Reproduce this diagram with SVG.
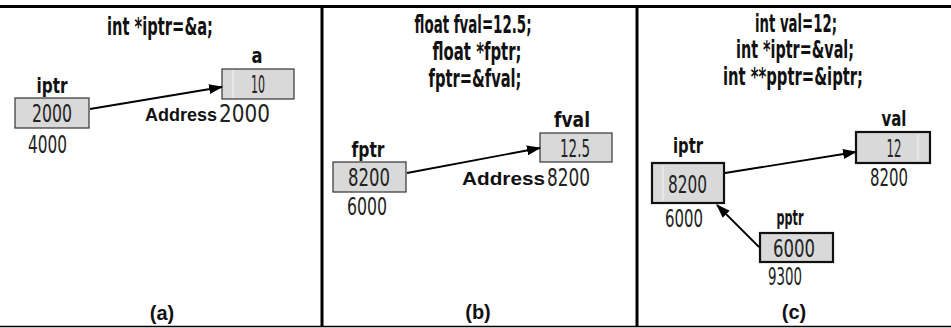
<svg xmlns="http://www.w3.org/2000/svg" width="951" height="328" viewBox="0 0 951 328">
<style>
.code{font-family:"DejaVu Sans Condensed","DejaVu Sans","Liberation Sans",sans-serif;font-stretch:condensed;font-weight:bold;font-size:24px;fill:#111;text-anchor:middle}
.lbl{font-family:"DejaVu Sans Condensed","DejaVu Sans","Liberation Sans",sans-serif;font-stretch:condensed;font-weight:bold;font-size:21px;fill:#111;text-anchor:middle}
.num{font-family:"DejaVu Sans Condensed","DejaVu Sans","Liberation Sans",sans-serif;font-stretch:condensed;font-size:25px;fill:#222}
.addr{font-family:"Liberation Sans",Arial,sans-serif;font-weight:bold;font-size:18px;fill:#111}
.cap{font-family:"Liberation Sans",Arial,sans-serif;font-weight:bold;font-size:20px;fill:#111;text-anchor:middle}
.box{fill:#d9d9d9;stroke:#333;stroke-width:1.2}
.boxc{fill:#d9d9d9;stroke:#111;stroke-width:2.2}
.hl{stroke:#f2f2f2;stroke-width:1}
.frame{stroke:#000;fill:none}
.conn{stroke:#000;stroke-width:1.8;fill:none;marker-end:url(#ah)}
</style>
<defs>
<marker id="ah" viewBox="0 0 14 10" refX="13" refY="5" markerWidth="14" markerHeight="10" markerUnits="userSpaceOnUse" orient="auto">
<path d="M0,0 L14,5 L0,10 Z" fill="#000"/>
</marker>
</defs>
<rect x="0" y="0" width="951" height="328" fill="#fff"/>
<g id="frame">
<line class="frame" x1="0" y1="6.5" x2="951" y2="6.5" stroke-width="3"/>
<line class="frame" x1="0" y1="326.5" x2="951" y2="326.5" stroke-width="1.5"/>
<line class="frame" x1="322" y1="6" x2="322" y2="327" stroke-width="3"/>
<line class="frame" x1="637" y1="6" x2="637" y2="327" stroke-width="3"/>
</g>
<g id="panel-a-title">
<text class="code" x="160" y="35" textLength="106" lengthAdjust="spacingAndGlyphs">int *iptr=&amp;a;</text>
</g>
<g id="node-a">
<text class="lbl" x="257" y="63" textLength="11" lengthAdjust="spacingAndGlyphs">a</text>
<rect class="box" x="222" y="69" width="72" height="30"/>
<line class="hl" x1="233" y1="70" x2="233" y2="98"/>
<text class="num" x="258" y="93" text-anchor="middle" textLength="14" lengthAdjust="spacingAndGlyphs">10</text>
<text class="addr" x="145" y="121" textLength="72" lengthAdjust="spacingAndGlyphs">Address</text>
<text class="num" x="219" y="122" textLength="51" lengthAdjust="spacingAndGlyphs">2000</text>
</g>
<g id="node-iptr-a">
<text class="lbl" x="52" y="93" textLength="31" lengthAdjust="spacingAndGlyphs">iptr</text>
<rect class="box" x="15" y="98" width="74" height="30"/>
<text class="num" x="32" y="122" textLength="40" lengthAdjust="spacingAndGlyphs">2000</text>
<text class="num" x="28" y="153" textLength="39" lengthAdjust="spacingAndGlyphs">4000</text>
</g>
<g id="panel-a-caption"><text class="cap" x="162" y="320">(a)</text></g>

<g id="panel-b-title">
<text class="code" x="473" y="33" textLength="117" lengthAdjust="spacingAndGlyphs">float fval=12.5;</text>
<text class="code" x="477" y="60" textLength="89" lengthAdjust="spacingAndGlyphs">float *fptr;</text>
<text class="code" x="475" y="87" textLength="93" lengthAdjust="spacingAndGlyphs">fptr=&amp;fval;</text>
</g>
<g id="node-fval">
<text class="lbl" x="572" y="127" textLength="36" lengthAdjust="spacingAndGlyphs">fval</text>
<rect class="box" x="540" y="133" width="72" height="29"/>
<text class="num" x="575" y="157" text-anchor="middle" textLength="30" lengthAdjust="spacingAndGlyphs">12.5</text>
<text class="addr" x="462" y="185" textLength="83" lengthAdjust="spacingAndGlyphs">Address</text>
<text class="num" x="547" y="186" textLength="43" lengthAdjust="spacingAndGlyphs">8200</text>
</g>
<g id="node-fptr">
<text class="lbl" x="368" y="157" textLength="33" lengthAdjust="spacingAndGlyphs">fptr</text>
<rect class="box" x="333" y="162" width="73" height="30"/>
<text class="num" x="348" y="186" textLength="42" lengthAdjust="spacingAndGlyphs">8200</text>
<text class="num" x="347" y="215" textLength="40" lengthAdjust="spacingAndGlyphs">6000</text>
</g>
<g id="panel-b-caption"><text class="cap" x="478" y="319">(b)</text></g>

<g id="panel-c-title">
<text class="code" x="796" y="32" textLength="82" lengthAdjust="spacingAndGlyphs">int val=12;</text>
<text class="code" x="795" y="58" textLength="118" lengthAdjust="spacingAndGlyphs">int *iptr=&amp;val;</text>
<text class="code" x="793" y="85" textLength="140" lengthAdjust="spacingAndGlyphs">int **pptr=&amp;iptr;</text>
</g>
<g id="node-val">
<text class="lbl" x="894" y="126" textLength="25" lengthAdjust="spacingAndGlyphs">val</text>
<rect class="boxc" x="856" y="132" width="74" height="31"/>
<line class="hl" x1="918" y1="134" x2="918" y2="161"/>
<text class="num" x="894" y="157" text-anchor="middle" textLength="15" lengthAdjust="spacingAndGlyphs">12</text>
<text class="num" x="870" y="186" textLength="38" lengthAdjust="spacingAndGlyphs">8200</text>
</g>
<g id="node-iptr-c">
<text class="lbl" x="688" y="153" textLength="30" lengthAdjust="spacingAndGlyphs">iptr</text>
<rect class="boxc" x="652" y="163" width="72" height="40"/>
<line class="hl" x1="663" y1="165" x2="663" y2="201"/>
<text class="num" x="668" y="193" textLength="39" lengthAdjust="spacingAndGlyphs">8200</text>
<text class="num" x="665" y="227" textLength="38" lengthAdjust="spacingAndGlyphs">6000</text>
</g>
<g id="node-pptr">
<text class="lbl" x="790" y="225" textLength="27" lengthAdjust="spacingAndGlyphs">pptr</text>
<rect class="boxc" x="760" y="233" width="73" height="29"/>
<text class="num" x="773" y="257" textLength="42" lengthAdjust="spacingAndGlyphs">6000</text>
<text class="num" x="768" y="285" textLength="34" lengthAdjust="spacingAndGlyphs">9300</text>
</g>
<g id="panel-c-caption"><text class="cap" x="794" y="319">(c)</text></g>

<g id="connectors">
<line class="conn" x1="90" y1="109" x2="222" y2="87"/>
<line class="conn" x1="407" y1="173" x2="540" y2="148"/>
<line class="conn" x1="725" y1="173" x2="856" y2="152"/>
<line class="conn" x1="759" y1="247" x2="717" y2="205"/>
</g>
</svg>
